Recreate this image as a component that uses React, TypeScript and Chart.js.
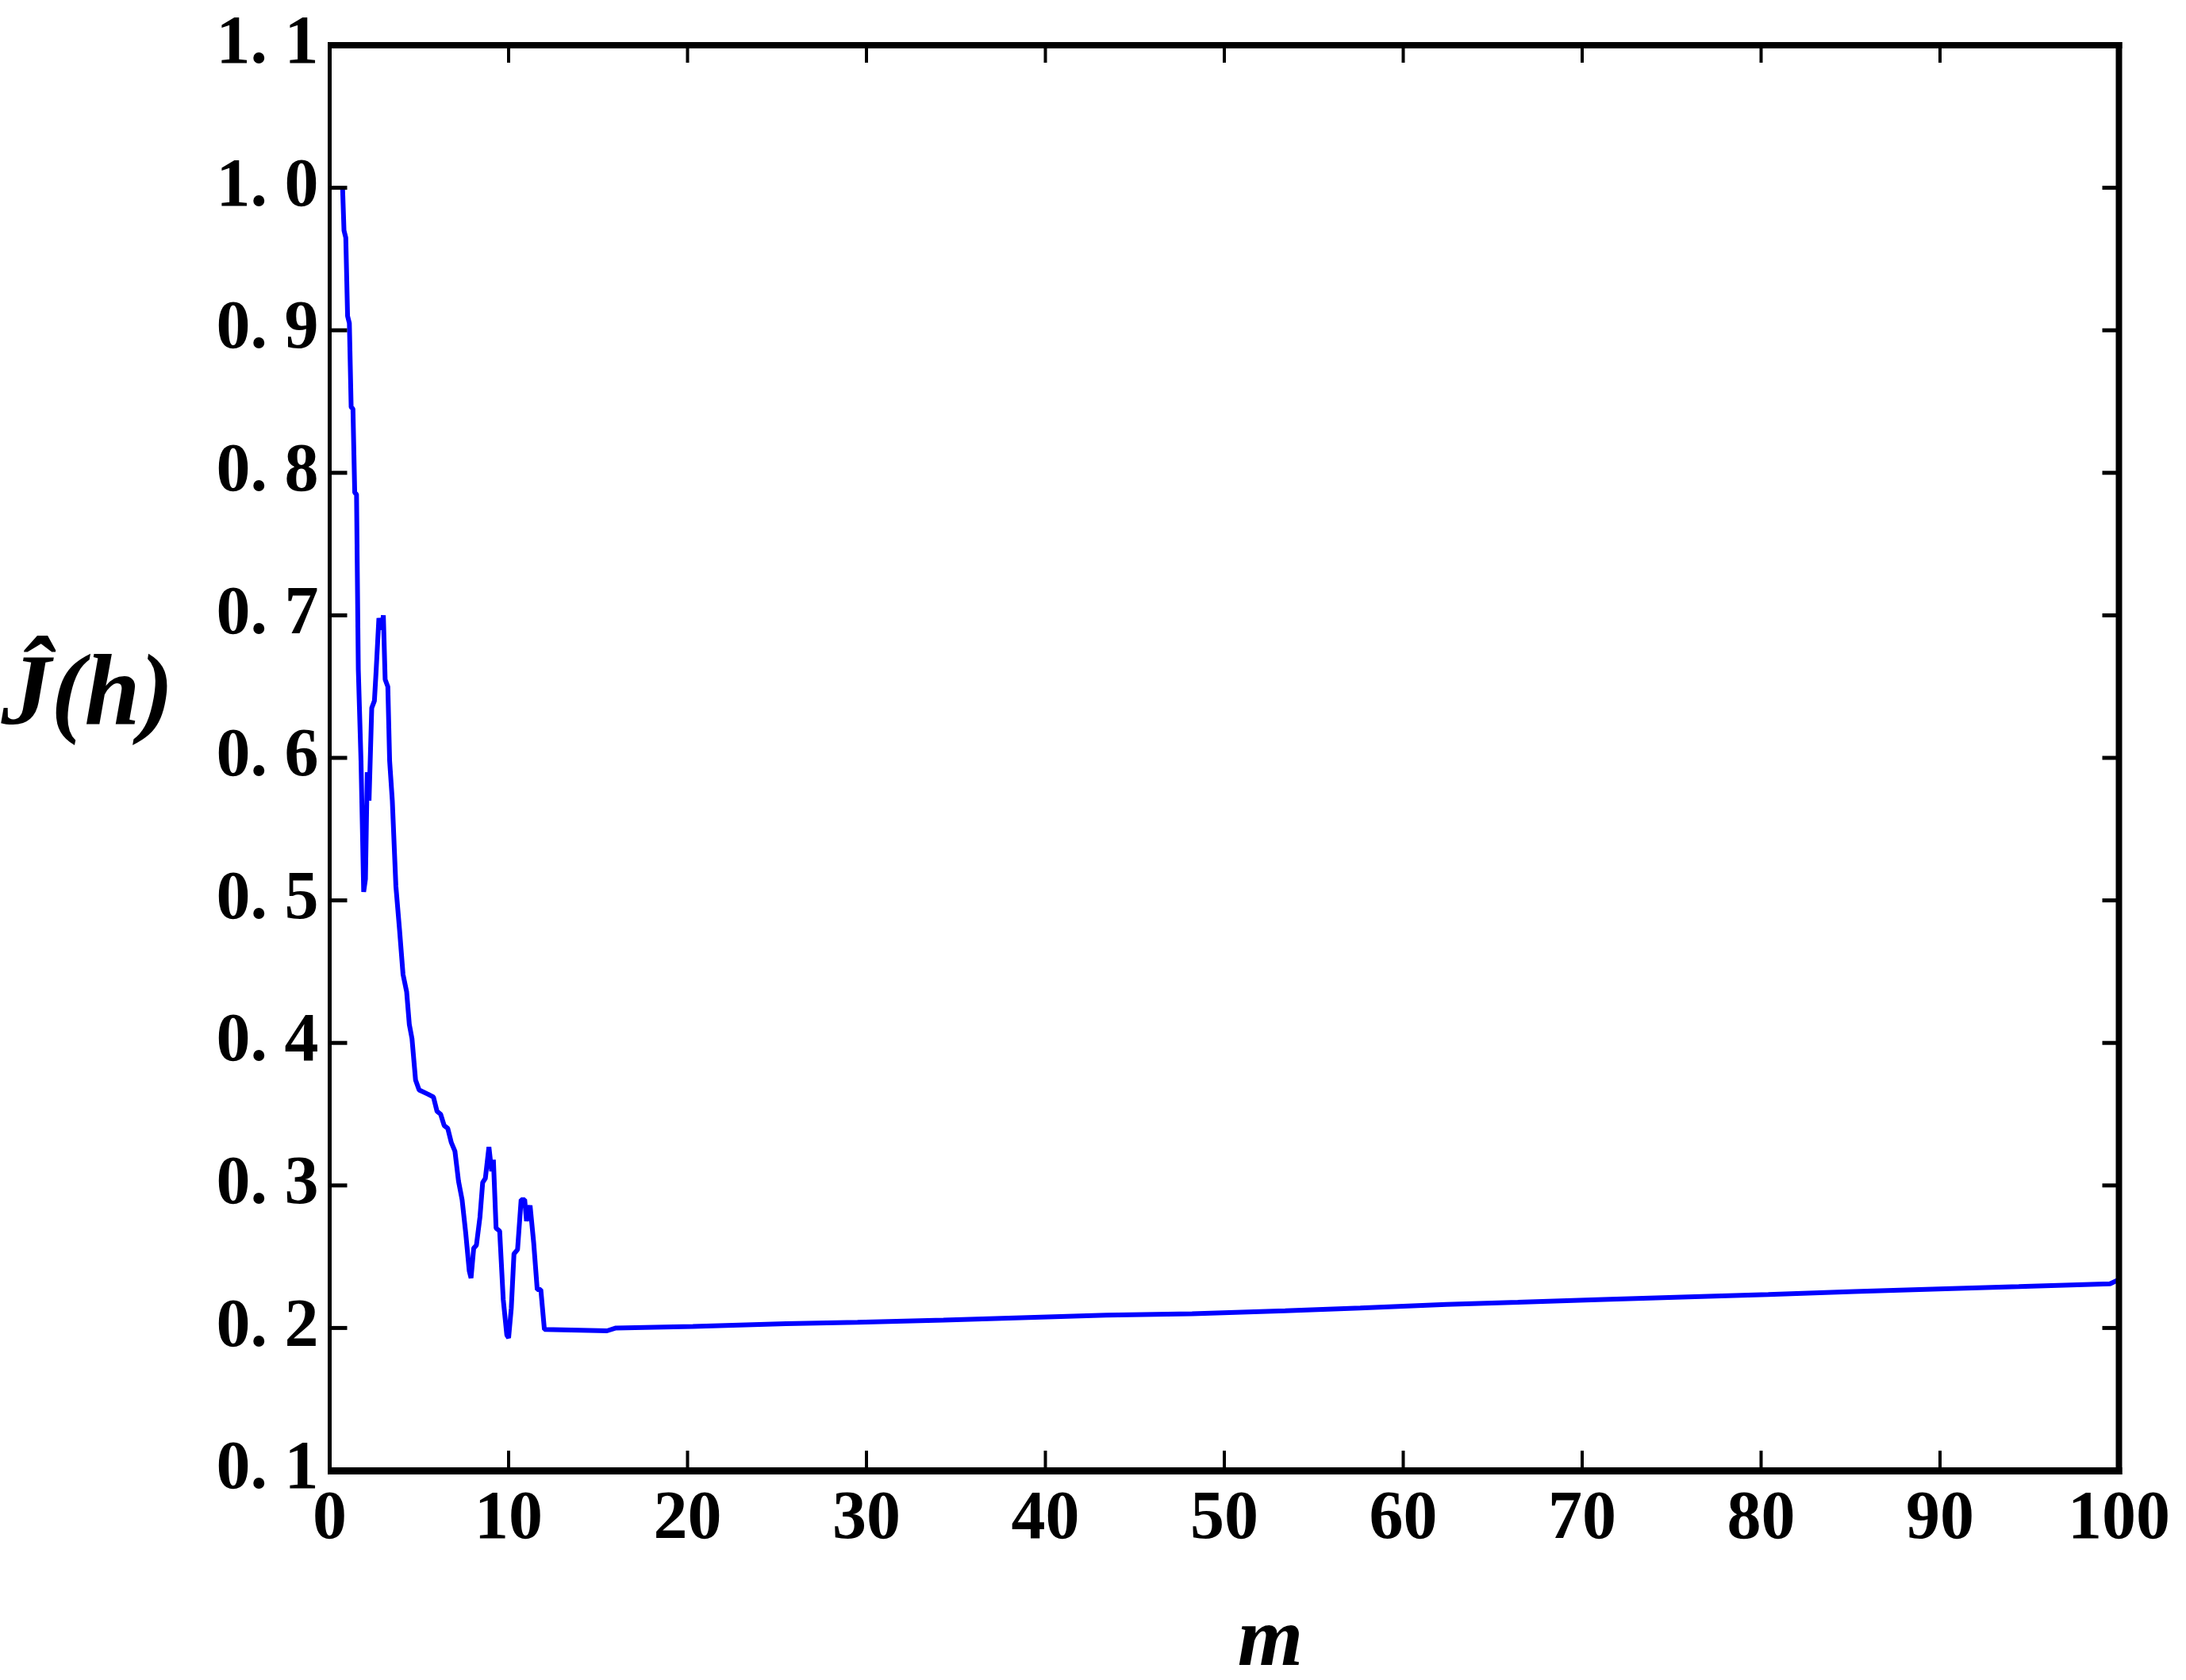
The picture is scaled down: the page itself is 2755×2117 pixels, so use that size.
import { useEffect, useRef } from 'react';
import { Chart, registerables } from 'chart.js';

Chart.register(...registerables);

// ---- data ----
const mValues = [
  0.72, 0.8, 0.9, 1.0, 1.1, 1.2, 1.3, 1.4, 1.5, 1.6, 1.75, 1.9, 2.0, 2.1, 2.2, 2.35, 2.5, 2.6, 2.75, 2.9,
  3.0, 3.1, 3.25, 3.35, 3.5, 3.7, 3.9, 4.1, 4.3, 4.45, 4.6, 4.8, 5.0, 5.5, 5.8, 6.0, 6.2, 6.4, 6.6, 6.8,
  7.0, 7.2, 7.4, 7.6, 7.8, 7.9, 8.05, 8.2, 8.4, 8.55, 8.7, 8.9, 9.05, 9.15, 9.3, 9.5, 9.7, 9.9, 10.0, 10.15,
  10.3, 10.5, 10.7, 10.9, 11.0, 11.2, 11.4, 11.6, 11.8, 12.0, 15.5, 16.0, 20.3, 25.5, 29.5, 34.3, 39.4, 43.4,
  48.2, 53.4, 57.6, 62.4, 66.4, 71.2, 76.3, 80.4, 85.2, 90.3, 94.4, 99.5, 100,
];
const jValues = [
  1.0, 0.97, 0.965, 0.91, 0.905, 0.846, 0.845, 0.786, 0.785, 0.662, 0.598, 0.506, 0.515, 0.59, 0.57, 0.635, 0.64, 0.662, 0.698, 0.69,
  0.7, 0.655, 0.65, 0.598, 0.57, 0.51, 0.48, 0.448, 0.436, 0.413, 0.403, 0.374, 0.367, 0.364, 0.362, 0.352, 0.35, 0.342, 0.34, 0.33,
  0.324, 0.303, 0.29, 0.267, 0.24, 0.235, 0.256, 0.258, 0.278, 0.302, 0.305, 0.327, 0.31, 0.318, 0.27, 0.268, 0.22, 0.195, 0.193, 0.214,
  0.252, 0.255, 0.29, 0.29, 0.275, 0.286, 0.26, 0.227, 0.227, 0.199, 0.198, 0.2, 0.201, 0.203, 0.204, 0.2055, 0.2075, 0.209,
  0.21, 0.212, 0.214, 0.2165, 0.218, 0.22, 0.222, 0.2235, 0.2255, 0.2275, 0.229, 0.231, 0.234,
];

const xTickValues = [0, 10, 20, 30, 40, 50, 60, 70, 80, 90, 100];
const xTickLabels = ['0', '10', '20', '30', '40', '50', '60', '70', '80', '90', '100'];
const yTickValues = [0.1, 0.2, 0.3, 0.4, 0.5, 0.6, 0.7, 0.8, 0.9, 1.0, 1.1];
const yTickLabels = ['0. 1', '0. 2', '0. 3', '0. 4', '0. 5', '0. 6', '0. 7', '0. 8', '0. 9', '1. 0', '1. 1'];
const xTitle = 'm';
const yTitle = 'Ĵ(h)';

// ---- layout ----
const W = 2755;
const H = 2117;
const AREA = { left: 415.5, top: 51, right: 2678, bottom: 1853 };
const FONT = '"Liberation Serif", "DejaVu Serif", serif';

const framePlugin = {
  id: 'frame',
  afterDraw(chart: any) {
    const { ctx, chartArea: a, scales } = chart;
    ctx.save();
    ctx.fillStyle = '#000';
    // box
    ctx.fillRect(a.left - 2.5, a.top - 4, a.right - a.left + 6.5, 8);
    ctx.fillRect(a.left - 2.5, a.bottom - 4, a.right - a.left + 6.5, 9);
    ctx.fillRect(a.left - 2.5, a.top - 4, 5, a.bottom - a.top + 9);
    ctx.fillRect(a.right - 4, a.top - 4, 8, a.bottom - a.top + 9);
    // inward tick marks on all four sides
    scales.x.ticks.forEach((t: any) => {
      const px = scales.x.getPixelForValue(t.value);
      ctx.fillRect(px - 2, a.bottom - 25, 4, 25);
      ctx.fillRect(px - 2, a.top, 4, 22);
    });
    scales.y.ticks.forEach((t: any) => {
      const py = scales.y.getPixelForValue(t.value);
      ctx.fillRect(a.left, py - 2.5, 22, 5);
      ctx.fillRect(a.right - 21, py - 2.5, 21, 5);
    });
    // axis titles (horizontal)
    ctx.textAlign = 'center';
    ctx.textBaseline = 'alphabetic';
    ctx.font = `italic bold 126px ${FONT}`;
    ctx.fillText(yTitle, 110, 912);
    ctx.font = `italic bold 106px ${FONT}`;
    ctx.fillText(xTitle, 1601, 2098);
    ctx.restore();
  },
};

export default function App() {
  const ref = useRef<HTMLCanvasElement | null>(null);

  useEffect(() => {
    if (!ref.current) return;
    const tickFont = { family: FONT, size: 86, weight: 'bold' as const, lineHeight: 1 };
    const chart = new Chart(ref.current, {
      type: 'line',
      data: {
        datasets: [
          {
            data: mValues.map((m, i) => ({ x: m, y: jValues[i] })),
            borderColor: '#0000ff',
            borderWidth: 6,
            borderJoinStyle: 'bevel',
            pointRadius: 0,
            tension: 0,
            fill: false,
          },
        ],
      },
      options: {
        responsive: false,
        animation: false,
        devicePixelRatio: 1,
        layout: { padding: { top: AREA.top, right: W - AREA.right, left: 0, bottom: 0 } },
        plugins: { legend: { display: false }, tooltip: { enabled: false } },
        scales: {
          x: {
            type: 'linear',
            min: 0,
            max: 100,
            afterBuildTicks: (s: any) => {
              s.ticks = xTickValues.map((v) => ({ value: v }));
            },
            afterFit: (s: any) => {
              s.height = H - AREA.bottom;
            },
            grid: { display: false, drawTicks: false },
            border: { display: false },
            ticks: {
              callback: (_v: any, i: number) => xTickLabels[i],
              font: tickFont,
              color: '#000',
              padding: 20,
              maxRotation: 0,
              minRotation: 0,
              autoSkip: false,
            },
          },
          y: {
            type: 'linear',
            min: 0.1,
            max: 1.1,
            afterBuildTicks: (s: any) => {
              s.ticks = yTickValues.map((v) => ({ value: v }));
            },
            afterFit: (s: any) => {
              s.width = AREA.left;
            },
            grid: { display: false, drawTicks: false },
            border: { display: false },
            ticks: {
              callback: (_v: any, i: number) => yTickLabels[i],
              font: tickFont,
              color: '#000',
              padding: 14,
              autoSkip: false,
            },
          },
        },
      },
      plugins: [framePlugin],
    });
    return () => chart.destroy();
  }, []);

  return (
    <div style={{ position: 'absolute', left: 0, top: 0, width: W, height: H, background: '#fff' }}>
      <canvas ref={ref} width={W} height={H} style={{ display: 'block', width: W, height: H }} />
    </div>
  );
}
